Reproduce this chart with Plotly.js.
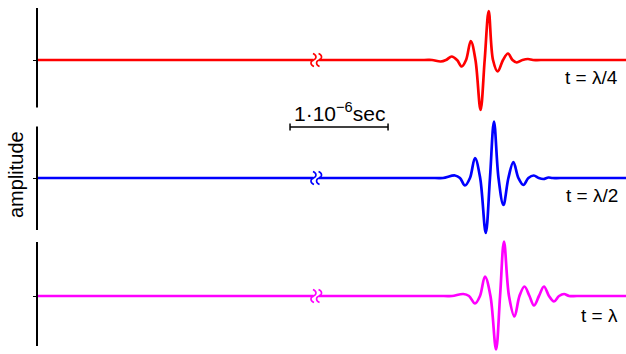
<!DOCTYPE html>
<html><head><meta charset="utf-8">
<script src="https://cdn.plot.ly/plotly-3.0.1.min.js"></script>
<style>html,body{margin:0;padding:0;background:#fff}#chart{width:626px;height:354px}</style>
</head><body><div id="chart"></div>
<script>
// time in microseconds, amplitude in relative units
const redT = [0, 3.95, 4.031, 4.119, 4.173, 4.232, 4.286, 4.334, 4.378, 4.426, 4.474, 4.526, 4.568, 4.609, 4.653, 4.701, 4.755, 4.806, 4.852, 4.895, 4.954, 5.010, 5.061, 5.14, 6.01];
const redA = [0, 0, 0, -0.03, 0, 0.07, 0, -0.13, 0, 0.38, 0, -1.0, 0, 0.98, 0, -0.23, 0, 0.13, 0, -0.05, 0, 0.02, 0, 0, 0];

const blueT = [0, 4.06, 4.143, 4.265, 4.316, 4.367, 4.418, 4.469, 4.522, 4.579, 4.622, 4.663, 4.709, 4.759, 4.810, 4.861, 4.912, 4.963, 5.014, 5.069, 5.120, 5.167, 5.218, 5.26, 5.34, 6.01];
const blueA = [0, 0, 0, 0.05, 0, -0.15, 0, 0.40, 0, -1.10, 0, 1.13, 0, -0.54, 0, 0.32, 0, -0.14, 0, 0.05, 0, -0.02, 0.01, 0, 0, 0];

const magT = [0, 4.15, 4.235, 4.350, 4.408, 4.469, 4.520, 4.571, 4.627, 4.684, 4.725, 4.765, 4.816, 4.872, 4.923, 4.974, 5.025, 5.071, 5.122, 5.173, 5.224, 5.275, 5.327, 5.378, 5.43, 5.51, 6.01];
const magA = [0, 0, 0, 0.04, 0, -0.15, 0, 0.39, 0, -1.07, 0, 1.09, 0, -0.41, 0, 0.19, 0, -0.19, 0, 0.19, 0, -0.11, 0, 0.04, 0, 0, 0];

const labels = ['t = \u03bb/4', 't = \u03bb/2', 't = \u03bb'];
const labelA = [-0.34, -0.35, -0.39];
const axisTop = [1.04, 1.03, 1.08];
const axisBottom = [-0.95, -1.04, -1.0];
const colors = ['#ff0000', '#0000ff', '#ff00ff'];

const scaleStart = 2.582, scaleLength = 1.0;  // 1 microsecond
const breakL = 2.821, breakR = 2.878;

const FONT = 'Liberation Sans, Arial, sans-serif';
const series = [[redT, redA], [blueT, blueA], [magT, magA]];
const yNames = ['y', 'y2', 'y3'];

const traces = series.map((s, i) => ({
  x: s[0], y: s[1], xaxis: 'x', yaxis: yNames[i], type: 'scatter', mode: 'lines',
  line: {color: colors[i], width: 2.7, shape: 'spline', smoothing: 1},
  hoverinfo: 'skip', showlegend: false
}));

const shapes = [];
const annotations = [];
yNames.forEach((yn, i) => {
  shapes.push({type: 'line', xref: 'paper', yref: yn, x0: 0, x1: 0, y0: axisBottom[i], y1: axisTop[i],
    line: {color: '#000', width: 2}});
  shapes.push({type: 'rect', xref: 'x', yref: yn, x0: breakL, x1: breakR, y0: -0.08, y1: 0.08,
    fillcolor: '#fff', line: {width: 0}});
  [breakL, breakR].forEach(bx => {
    const dx = 0.035, h = 0.13;
    shapes.push({type: 'path', xref: 'x', yref: yn,
      path: `M ${bx - 0.005},${h} C ${bx + dx},${h * 0.75} ${bx + dx},${h * 0.2} ${bx},0 C ${bx - dx},${-h * 0.2} ${bx - dx},${-h * 0.75} ${bx + 0.005},${-h}`,
      line: {color: colors[i], width: 1.6}});
  });
  annotations.push({xref: 'paper', yref: yn, x: 1, y: labelA[i], xanchor: 'right', yanchor: 'middle',
    xshift: -6, text: labels[i], showarrow: false, font: {family: FONT, size: 19, color: '#000'}});
});
// scale bar
const barY = 1 - 127 / 354;
shapes.push({type: 'line', xref: 'x', yref: 'paper', x0: scaleStart, x1: scaleStart + scaleLength, y0: barY, y1: barY, line: {color: '#000', width: 1.5}});
[scaleStart, scaleStart + scaleLength].forEach(bx => {
  shapes.push({type: 'line', xref: 'x', yref: 'paper', x0: bx, x1: bx, y0: barY - 3.5 / 354, y1: barY + 3.5 / 354, line: {color: '#000', width: 1.5}});
});
annotations.push({xref: 'x', yref: 'paper', x: scaleStart + scaleLength / 2, y: 1 - 127 / 354, xanchor: 'center', yanchor: 'bottom',
  text: '1\u00b710<sup>\u22126</sup>sec', showarrow: false, font: {family: FONT, size: 21, color: '#000'}});
annotations.push({xref: 'paper', yref: 'paper', x: 0, y: 1 - 175 / 354, xanchor: 'center', yanchor: 'middle', xshift: -21,
  text: 'amplitude', textangle: -90, showarrow: false, font: {family: FONT, size: 20, color: '#000'}});

const yax = d => ({domain: d, range: [-1.16, 1.2], anchor: 'x', showgrid: false, zeroline: false, showline: false,
  ticks: 'outside', tickvals: [0], ticklen: 3, tickwidth: 1, tickcolor: '#000', showticklabels: false, fixedrange: true});

const layout = {
  width: 626, height: 354, margin: {l: 37, r: 0, t: 0, b: 0},
  paper_bgcolor: '#fff', plot_bgcolor: 'rgba(0,0,0,0)',
  xaxis: {range: [0, 6.01], visible: false, anchor: 'y3', fixedrange: true},
  yaxis: yax([2 / 3, 1]), yaxis2: yax([1 / 3, 2 / 3]), yaxis3: yax([0, 1 / 3]),
  shapes, annotations, showlegend: false
};
Plotly.newPlot('chart', traces, layout, {staticPlot: true, displayModeBar: false});
</script></body></html>
